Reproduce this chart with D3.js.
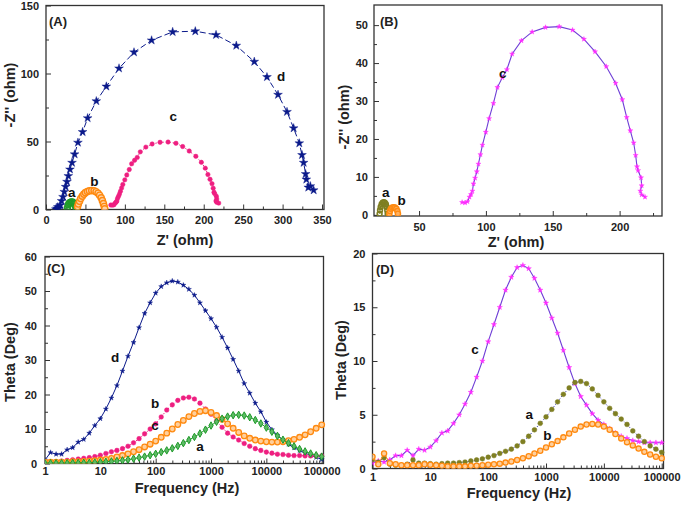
<!DOCTYPE html>
<html><head><meta charset="utf-8">
<script src="https://cdn.jsdelivr.net/npm/d3@7"></script>
<style>body{margin:0;background:#fff}svg{display:block;font-family:"Liberation Sans",Arial,sans-serif;font-weight:bold}</style>
</head><body><svg id="chart" width="685" height="507"></svg>
<script>
// ---------- data ----------
const freq = [1,1.259,1.585,1.995,2.512,3.162,3.981,5.012,6.31,7.943,10,12.59,15.85,19.95,25.12,31.62,39.81,50.12,63.1,79.43,100,125.9,158.5,199.5,251.2,316.2,398.1,501.2,631,794.3,1000,1259,1585,1995,2512,3162,3981,5012,6310,7943,10000,12589,15849,19953,25119,31623,39811,50119,63096,79433,100000];

// Panel C (Theta, deg)
const thetaC_d = [1.0,3.2,2.7,2.7,4.0,4.6,6.2,7.0,8.8,11.0,13.0,15.8,19.0,22.6,26.8,31.1,35.1,39.4,43.5,46.6,49.4,51.3,52.4,52.9,52.6,51.7,50.5,48.8,46.6,44.3,42.0,39.5,36.6,33.5,30.2,26.8,23.2,20.4,17.5,15.0,12.0,9.8,8.2,6.8,5.6,4.6,3.8,3.0,2.4,1.8,1.2];
const thetaC_b = [0.3,0.4,0.5,0.7,0.9,1.1,1.3,1.5,1.7,2.0,2.4,2.9,3.4,3.8,4.3,5.0,6.0,7.2,8.6,10.0,11.5,13.5,15.5,17.0,18.3,19.0,19.2,18.7,17.5,15.8,14.3,12.3,10.5,8.8,7.7,6.8,5.8,5.0,4.3,3.8,3.3,3.0,2.7,2.6,2.4,2.3,2.3,2.2,2.2,2.2,2.2];
const thetaC_c = [0.4,0.4,0.4,0.4,0.4,0.5,0.5,0.6,0.7,0.8,1.0,1.2,1.5,1.9,2.3,2.8,3.4,4.0,4.8,5.6,6.5,7.6,8.8,10.0,11.3,12.5,13.6,14.5,15.1,15.3,14.8,13.9,12.8,11.5,10.2,9.0,8.0,7.3,6.8,6.5,6.3,6.2,6.2,6.3,6.6,7.0,7.6,8.3,9.2,10.2,11.2];
const thetaC_a = [0.1,0.1,0.1,0.1,0.1,0.15,0.15,0.2,0.2,0.3,0.4,0.5,0.6,0.75,0.9,1.1,1.4,1.7,2.0,2.4,2.8,3.3,3.8,4.4,5.1,5.9,6.8,7.7,8.7,9.8,11.0,12.1,13.0,13.6,14.0,14.1,13.9,13.4,12.6,11.6,10.4,9.2,8.0,6.9,5.9,5.0,4.2,3.5,2.9,2.4,2.0];

// Panel D (Theta, deg)
const thetaD_c = [0.5,0.7,0.6,0.8,1.2,1.2,1.7,1.2,1.8,1.7,2.0,2.6,3.3,3.5,4.2,5.0,6.0,7.1,8.5,10.0,11.8,13.4,15.0,16.6,17.8,18.7,18.9,18.6,17.7,16.6,15.4,14.0,12.6,11.0,9.4,7.9,6.7,5.9,5.1,4.5,4.1,3.7,3.3,3.0,2.8,2.6,2.5,2.4,2.4,2.4,2.4];
const thetaD_a = [0.8,0.6,1.0,0.4,0.3,0.3,0.4,0.8,0.5,0.5,0.45,0.4,0.45,0.5,0.5,0.55,0.6,0.7,0.8,0.9,1.05,1.2,1.4,1.6,1.8,2.1,2.5,3.0,3.6,4.2,4.8,5.5,6.2,6.9,7.5,8.0,8.1,7.9,7.4,6.8,6.2,5.6,5.1,4.6,4.1,3.5,3.0,2.5,2.1,1.8,1.5];
const thetaD_b = [1.1,0.4,1.4,0.5,0.4,0.3,0.3,0.3,0.3,0.4,0.35,0.3,0.25,0.2,0.2,0.2,0.2,0.25,0.25,0.3,0.35,0.4,0.45,0.55,0.65,0.8,0.95,1.15,1.4,1.65,1.95,2.25,2.55,2.9,3.25,3.6,3.9,4.1,4.15,4.1,3.9,3.6,3.2,2.8,2.45,2.15,1.85,1.55,1.3,1.1,0.95];

// Nyquist data [Z', -Z'']
const nyqA_d = [[12.5,0.2],[14,0.8],[15,1.8],[16.5,0.7],[18.1,3.2],[19.8,6.3],[21.6,9.3],[23.2,13.0],[24.9,16.7],[26.6,20.4],[28.3,24.6],[30.4,29.5],[33.0,34.4],[36.3,40.6],[40.5,49.2],[46.4,57.0],[52.8,67.2],[63.8,79.7],[76.5,90.5],[92.6,103.8],[111.6,115.6],[133.9,124.4],[160.6,130.6],[189.3,131.1],[215.6,128.4],[241.3,120.5],[264.1,108.7],[280.2,97.4],[294.2,84.4],[305.6,71.8],[314.0,59.8],[321.2,48.7],[324.6,40.1],[326.7,34.4],[329.2,26.1],[330.1,22.1],[332.6,16.2],[335.2,17.2],[339.4,14.2]];
const nyq_c = [[82.2,3.3],[84.4,3.2],[86.2,3.5],[87.7,4.7],[88.9,5.4],[89.9,6.3],[90.7,8.2],[91.9,9.7],[93.2,11.4],[94.4,13.4],[95.9,15.9],[97.4,18.4],[99.9,21.8],[102.4,25.4],[105.6,29.4],[108.6,33.6],[112.3,36.2],[115.7,38.3],[119.6,42.4],[126.6,45.9],[134.6,48.2],[144.6,49.4],[154.8,49.6],[164.8,48.7],[173.3,46.3],[181.6,43.0],[190.0,39.1],[197.0,34.7],[202.0,30.4],[205.3,25.7],[208.0,22.2],[210.5,19.0],[212.0,15.7],[213.0,12.7],[213.8,11.7],[216.0,9.8],[216.5,7.7],[215.5,6.3],[216.5,5.3],[219.0,4.7]];
const nyqA_b = [[40,2.0],[41,4.0],[42.5,6.0],[44,8.0],[46,9.8],[48,11.3],[50,12.4],[52.5,13.2],[55,13.7],[58,13.9],[61,13.7],[63.5,13.1],[66,12.0],[68,10.5],[70,8.6],[71.5,6.5],[72.8,4.3],[73.8,2.2],[74.5,0.5]];
const nyqA_a = [[27,0.5],[27.5,2.0],[28.3,3.5],[29.3,4.6],[30.5,5.3],[32,5.6],[33.5,5.5],[35,4.9],[36.3,3.9],[37.3,2.7],[38,1.5],[38.5,0.5]];
const nyqB_a = [[20.5,0.3],[20.8,1.2],[21.3,2.1],[22,2.8],[22.8,3.2],[23.6,3.35],[24.4,3.2],[25.2,2.8],[25.8,2.1],[26.2,1.2],[26.5,0.3]];
const nyqB_b = [[27.8,0.3],[28.2,1.0],[29,1.6],[30,1.9],[31,2.0],[32,1.9],[33,1.6],[33.8,1.0],[34.2,0.3]];

const ticksA_x = [0,50,100,150,200,250,300,350], ticksA_y = [0,50,100,150];
const ticksB_x = [50,100,150,200], ticksB_y = [0,10,20,30,40,50];
const ticksLog = [1,10,100,1000,10000,100000];
const ticksC_y = [0,10,20,30,40,50,60], ticksD_y = [0,5,10,15,20];

// ---------- drawing ----------
const svg = d3.select("#chart");
const NAVY="#0b1a8a", PINK="#ee1f80", ORANGE="#ff8a10", GREEN="#1f9a2a", MAG="#ff2cff", PURPLE="#6f3fd6", OLIVE="#7f7f22";

function panel(o){
  const g = svg.append("g");
  const [l,r,t,b] = o.box;
  const ax = d3.axisBottom(o.x).tickValues(o.xt).tickSize(-5).tickPadding(o.xpad||7).tickFormat(o.xf||d3.format("d"));
  const ay = d3.axisLeft(o.y).tickValues(o.yt).tickSize(-5).tickPadding(o.ypad||6).tickFormat(d3.format("d"));
  const axm = d3.axisBottom(o.x).tickValues(o.xm).tickSize(-3).tickFormat("");
  const aym = d3.axisLeft(o.y).tickValues(o.ym).tickSize(-3).tickFormat("");
  [[ax,"x"],[axm,"x"],[ay,"y"],[aym,"y"]].forEach(([a,k])=>{
    const s = g.append("g").attr("transform", k==="x" ? `translate(0,${b})` : `translate(${l},0)`).call(a);
    s.select(".domain").remove();
    s.selectAll("line").attr("stroke","#333").attr("stroke-width",1);
    s.selectAll("text").attr("font-size",11).attr("font-weight","bold").attr("fill","#222").attr("font-family",'"Liberation Sans",Arial,sans-serif');
  });
  g.append("rect").attr("x",l).attr("y",t).attr("width",r-l).attr("height",b-t)
    .attr("fill","none").attr("stroke","#333").attr("stroke-width",1.3);
  const clipId = "clip"+o.id;
  svg.append("clipPath").attr("id",clipId).append("rect").attr("x",l).attr("y",t-6).attr("width",r-l+8).attr("height",b-t+6);
  const plot = g.append("g").attr("clip-path",`url(#${clipId})`);
  o.series.forEach(s=>{
    const line = d3.line().x(d=>o.x(d[0])).y(d=>o.y(d[1]));
    plot.append("path").datum(s.data).attr("d",line).attr("fill","none")
      .attr("stroke",s.lc).attr("stroke-width",s.lw||1).attr("stroke-dasharray",s.dash||null);
    const m = plot.append("g");
    s.data.forEach(d=>{
      const cx=o.x(d[0]), cy=o.y(d[1]);
      if(s.m==="star"){
        m.append("path").attr("d",d3.symbol(d3.symbolStar,s.size)()).attr("transform",`translate(${cx},${cy})`).attr("fill",s.c).attr("stroke",s.c).attr("stroke-width",0.4);
      } else if(s.m==="diamond"){
        m.append("path").attr("d",d3.symbol(d3.symbolDiamond,s.size)()).attr("transform",`translate(${cx},${cy})`).attr("fill",s.fill).attr("stroke",s.c).attr("stroke-width",1);
      } else {
        m.append("circle").attr("cx",cx).attr("cy",cy).attr("r",s.r).attr("fill",s.fill).attr("stroke",s.c).attr("stroke-width",s.sw||1);
      }
    });
  });
  g.append("text").attr("x",o.xtPos[0]).attr("y",o.xtPos[1]).attr("text-anchor","middle").attr("font-size",14.5).attr("fill","#222").text(o.xtitle);
  g.append("text").attr("transform",`translate(${o.ytPos[0]},${o.ytPos[1]}) rotate(-90)`).attr("text-anchor","middle").attr("font-size",14.5).attr("fill","#222").text(o.ytitle);
  g.append("text").attr("x",o.pl[0]).attr("y",o.pl[1]).attr("font-size",13).attr("fill","#222").text(o.plabel);
  o.labels.forEach(([txt,x,y])=>g.append("text").attr("x",x).attr("y",y).attr("text-anchor","middle").attr("dominant-baseline","central").attr("font-size",13.5).attr("fill","#111").text(txt));
}

const logMinor = [];
[1,10,100,1000,10000].forEach(dec=>{for(let i=2;i<=9;i++) logMinor.push(dec*i);});
const zip = v => freq.map((f,i)=>[f,v[i]]);

// Panel A
panel({id:"A", box:[46,324,5.5,209.5],
  x:d3.scaleLinear().domain([0,352.5]).range([46,324]),
  y:d3.scaleLinear().domain([0,150]).range([209.5,5.5]),
  xt:ticksA_x, xm:[25,75,125,175,225,275,325], yt:ticksA_y, ym:[25,75,125],
  ypad:7, xtitle:"Z' (ohm)", xtPos:[185,245], ytitle:"-Z'' (ohm)", ytPos:[15,95],
  plabel:"(A)", pl:[49,26],
  labels:[["a",71.7,192.3],["b",94.3,181.7],["c",173.3,116.7],["d",281,76.7]],
  series:[
    {data:nyqA_a, lc:GREEN, m:"circle", r:3, fill:"none", c:GREEN, sw:1.3},
    {data:nyqA_b, lc:ORANGE, m:"circle", r:3.1, fill:"#ffd3a8", c:ORANGE, sw:1.4},
    {data:nyq_c, lc:PINK, dash:"1.5,2", m:"circle", r:2.2, fill:PINK, c:PINK, sw:0.5},
    {data:nyqA_d, lc:NAVY, dash:"6,3", m:"star", size:24, c:NAVY}
  ]});

// Panel B
panel({id:"B", box:[374,662,5,216],
  x:d3.scaleLinear().domain([16.3,231.7]).range([374,662]),
  y:d3.scaleLinear().domain([-0.3,55.3]).range([216,5]),
  xt:ticksB_x, xm:[25,75,125,175,225], yt:ticksB_y, ym:[5,15,25,35,45],
  ypad:6, xtitle:"Z' (ohm)", xtPos:[516,247], ytitle:"-Z'' (ohm)", ytPos:[349,117],
  plabel:"(B)", pl:[380,26],
  labels:[["a",385.7,192.7],["b",401.7,200],["c",502.7,73.3]],
  series:[
    {data:nyq_c, lc:PURPLE, lw:1.1, m:"star", size:8, c:MAG},
    {data:nyqB_a, lc:OLIVE, m:"circle", r:2.4, fill:"none", c:OLIVE, sw:1.6},
    {data:nyqB_b, lc:ORANGE, m:"circle", r:2.6, fill:"#ffb060", c:ORANGE, sw:1.4}
  ]});

// Panel C
panel({id:"C", box:[45,323.5,256.5,463.5],
  x:d3.scaleLog().domain([1,107800]).range([45,323.5]),
  y:d3.scaleLinear().domain([0,60]).range([463.5,256.5]),
  xt:ticksLog, xm:logMinor, yt:ticksC_y, ym:[5,15,25,35,45,55], xf:d3.format("d"),
  xpad:4, ypad:8, xtitle:"Frequency (Hz)", xtPos:[187,493], ytitle:"Theta (Deg)", ytPos:[15,362],
  plabel:"(C)", pl:[47,273],
  labels:[["d",115,357],["b",155,403.3],["c",155,425],["a",200,446.7]],
  series:[
    {data:zip(thetaC_d), lc:NAVY, m:"star", size:8, c:NAVY},
    {data:zip(thetaC_b), lc:PINK, dash:"1.5,2", m:"circle", r:2.3, fill:PINK, c:PINK, sw:0.5},
    {data:zip(thetaC_c), lc:ORANGE, m:"circle", r:2.8, fill:"#ffcf9c", c:ORANGE, sw:1.3},
    {data:zip(thetaC_a), lc:GREEN, m:"diamond", size:16, fill:"#5dbb65", c:GREEN}
  ]});

// Panel D
panel({id:"D", box:[372.5,663.5,253.5,468.5],
  x:d3.scaleLog().domain([1,107400]).range([372.5,663.5]),
  y:d3.scaleLinear().domain([0,20]).range([468.5,253.5]),
  xt:ticksLog, xm:logMinor, yt:ticksD_y, ym:[2.5,7.5,12.5,17.5], xf:d3.format("d"),
  xpad:5, ypad:7, xtitle:"Frequency (Hz)", xtPos:[519,498], ytitle:"Theta (Deg)", ytPos:[346,360],
  plabel:"(D)", pl:[376,274],
  labels:[["c",475,349.3],["a",529.3,414.3],["b",547.3,435]],
  series:[
    {data:zip(thetaD_c), lc:PURPLE, lw:1.1, m:"star", size:9, c:MAG},
    {data:zip(thetaD_a), lc:"#2a2aa0", dash:"1.2,2", m:"circle", r:2.4, fill:OLIVE, c:OLIVE, sw:0.5},
    {data:zip(thetaD_b), lc:ORANGE, m:"circle", r:2.6, fill:"#ffcf9c", c:ORANGE, sw:1.3}
  ]});
</script></body></html>
